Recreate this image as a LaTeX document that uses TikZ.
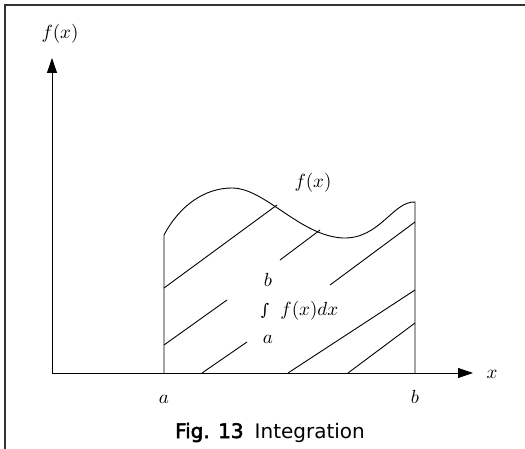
\documentclass[tikz,border=0pt]{standalone}
\usepackage{fontspec}
\setsansfont{DejaVu Sans}
\newfontfamily\capboldfont[FakeBold=2.5]{DejaVu Sans}
\newfontfamily\intfont{DejaVu Serif}
\DeclareFontShape{OML}{cmm}{m}{it}{<->cmmi10}{}
\DeclareFontShape{OMS}{cmsy}{m}{n}{<->cmsy10}{}
\DeclareFontShape{OMX}{cmex}{m}{n}{<->cmex10}{}
\DeclareFontShape{OT1}{cmr}{m}{n}{<->cmr10}{}
\usetikzlibrary{arrows.meta}
\begin{document}
\begin{tikzpicture}[x=1pt,y=-1pt,line width=0.9pt,
  lbl/.style={inner sep=0pt,anchor=base,font=\fontsize{19}{22}\selectfont},
  axis/.style={-{Triangle[length=15pt,width=10pt]}}]
\useasboundingbox (0,0) rectangle (525,449);
% frame
\draw[line width=1.6pt,black!80] (5,449) -- (5,5) -- (525,5);
% axes
\coordinate (O) at (52,373);
\coordinate (ytip) at (52,58);
\coordinate (xtip) at (473,373);
\draw[axis] (O) -- (ytip);
\draw[axis] (O) -- (xtip);
\node[lbl] (ylabel) at (60,39) {$f(x)$};
\node[lbl,anchor=center] (xlabel) at (492,374) {$x$};
% area under the curve
\coordinate (A) at (164,373);
\coordinate (B) at (415,373);
\draw (A) -- (164,235) .. controls (180,205) and (205,188) .. (232,188)
  .. controls (265,188) and (300,236) .. (343,238)
  .. controls (380,239) and (393,201) .. (415,202) -- (B);
\node[lbl] (alabel) at (A |- 0,403) {$a$};
\node[lbl] (blabel) at (B |- 0,403) {$b$};
\node[lbl] (curvelabel) at (313,188) {$f(x)$};
% hatching
\draw (164,288) -- (277,205);
\draw (164,345) -- (227,300);
\draw (280,260) -- (320,230);
\draw (202,373) -- (247,342);
\draw (330,285) -- (415,222);
\draw (288,373) -- (415,290);
\draw (348,373) -- (415,323);
% integral
\node[lbl] (upper) at (268,287) {$b$};
\node[lbl,font=\intfont\fontsize{16}{18}\selectfont] (intsign) at (265,316) {∫};
\node[lbl,anchor=base west] (integrand) at (280,315) {$f(x)dx$};
\node[lbl] (lower) at (268,343) {$a$};
% caption
\node[anchor=base,inner sep=0pt,font=\sffamily\fontsize{20}{23}\selectfont] (caption) at (270,438)
  {{\capboldfont Fig. 13}\hspace{11pt}Integration};
\end{tikzpicture}
\end{document}
